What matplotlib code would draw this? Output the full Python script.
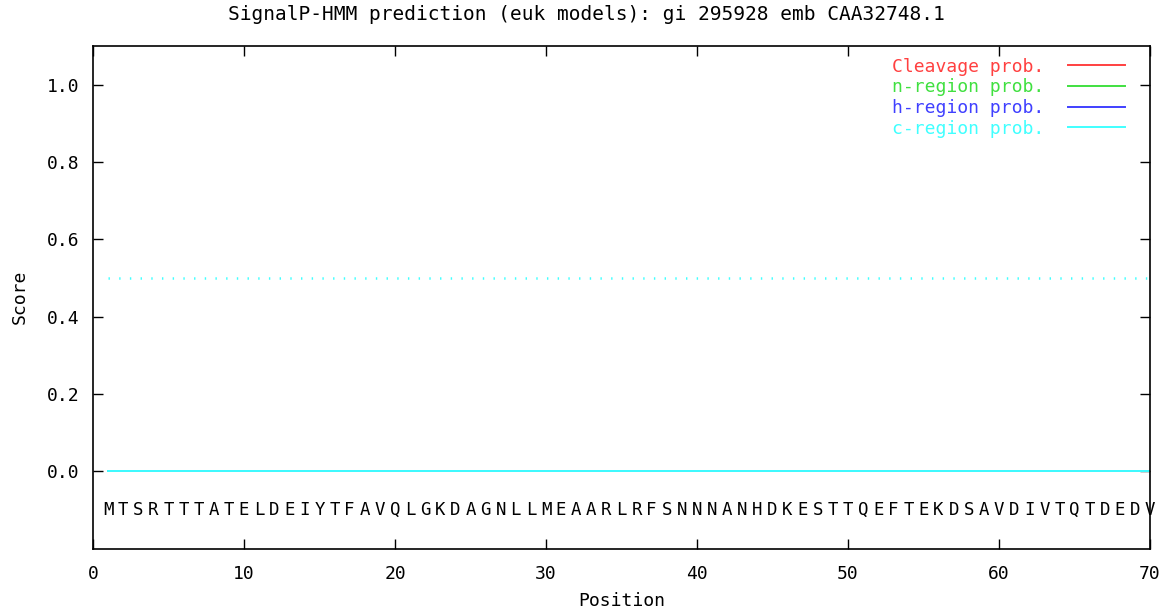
import matplotlib
matplotlib.use("Agg")
import matplotlib.pyplot as plt

plt.rcParams['font.family'] = ['DejaVu Sans Mono']
plt.rcParams['lines.scale_dashes'] = False

title = "SignalP-HMM prediction (euk models): gi 295928 emb CAA32748.1"
sequence = "MTSRTTTATELDEIYTFAVQLGKDAGNLLMEAARLRFSNNNANHDKESTTQEFTEKDSAVDIVTQTDEDV"
positions = list(range(1, len(sequence) + 1))
cleavage = [0.0] * len(sequence)
n_region = [0.0] * len(sequence)
h_region = [0.0] * len(sequence)
c_region = [0.0] * len(sequence)
threshold = 0.5
series_labels = ["Cleavage prob.", "n-region prob.", "h-region prob.", "c-region prob."]
series_colors = ["#ff4040", "#40e040", "#4040ff", "#40ffff"]
xticks = [0, 10, 20, 30, 40, 50, 60, 70]
yticks = [0.0, 0.2, 0.4, 0.6, 0.8, 1.0]

FS = 13

fig = plt.figure(figsize=(11.72, 6.13), dpi=100)
ax = fig.add_axes([93 / 1172, (613 - 548.5) / 613, (1150 - 93) / 1172, (548.5 - 46) / 613])

for ys, lab, col in zip([cleavage, n_region, h_region, c_region], series_labels, series_colors):
    ax.plot(positions, ys, color=col, lw=1.4, label=lab)

ax.plot([positions[0], positions[-1]], [threshold, threshold], color=series_colors[3],
        lw=1.8, linestyle=(0, (1.0, 6.7)))

for p, aa in zip(positions, sequence):
    ax.text(p, -0.1, aa, ha='center', va='center', fontsize=12.5, color='black')

ax.set_xlim(0, 70)
ax.set_ylim(-0.2, 1.1)
ax.set_xticks(xticks)
ax.set_xticklabels([str(t) for t in xticks])
ax.set_yticks(yticks)
ax.set_yticklabels([f"{t:.1f}" for t in yticks])
ax.tick_params(direction='in', length=7, width=1.0, top=True, right=True,
               labelsize=FS, colors='black')
ax.tick_params(axis='x', pad=12)
ax.tick_params(axis='y', pad=10)
for s in ax.spines.values():
    s.set_linewidth(1.2)

ax.set_xlabel("Position", fontsize=FS, labelpad=6)
ax.set_ylabel("Score", fontsize=FS, labelpad=13)
fig.text(0.5, 1 - 14 / 613, title, ha='center', va='center', fontsize=14)

leg = ax.legend(loc='upper right', bbox_to_anchor=(0.976, 0.977), frameon=False,
                markerfirst=False, labelcolor='linecolor', fontsize=FS,
                handlelength=3.15, handletextpad=1.3, labelspacing=0.15,
                borderaxespad=0, borderpad=0)

fig.savefig("out.png", dpi=100)
